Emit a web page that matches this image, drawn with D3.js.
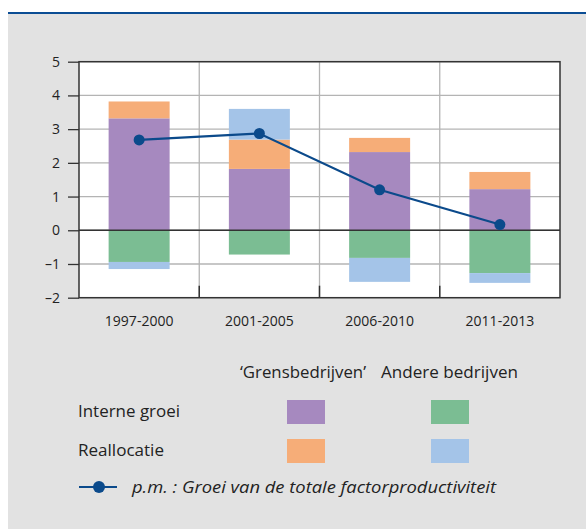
<!DOCTYPE html>
<html><head><meta charset="utf-8">
<script src="https://cdn.jsdelivr.net/npm/d3@7"></script>
<style>
html,body{margin:0;padding:0;background:#fff;}
svg{display:block;font-family:"Open Sans",sans-serif;}
</style></head>
<body>
<svg id="c" width="586" height="529"></svg>
<script>
const categories = ["1997-2000","2001-2005","2006-2010","2011-2013"];
const grensIntern = [3.32, 1.82, 2.32, 1.22];
const grensRealloc = [0.50, 0.87, 0.42, 0.51];
const andereIntern = [-0.94, -0.72, -0.82, -1.27];
const andereRealloc = [-0.21, 0.91, -0.71, -0.29];
const tfp = [2.68, 2.87, 1.20, 0.17];
const yTicks = [-2,-1,0,1,2,3,4,5];

const colors = {gi:"#a689bf", gr:"#f6ad78", ai:"#7bbd93", ar:"#a4c4e8", line:"#0b4a8b"};

const svg = d3.select("#c");
svg.append("rect").attr("x",8).attr("y",14).attr("width",578).attr("height",515).attr("fill","#e2e2e2");
svg.append("rect").attr("x",8).attr("y",12).attr("width",578).attr("height",2).attr("fill","#0b4d94");

const L=79, R=560, T=61.7, B=297.7;
const x = d3.scaleBand().domain(categories).range([L,R]).paddingInner(0).paddingOuter(0);
const y = d3.scaleLinear().domain([-2,5]).range([B,T]);

svg.append("rect").attr("x",L).attr("y",T).attr("width",R-L).attr("height",B-T).attr("fill","#fff");

// gridlines
const g = svg.append("g");
g.selectAll(".hg").data(yTicks).join("line")
  .attr("x1",L).attr("x2",R).attr("y1",d=>y(d)).attr("y2",d=>y(d))
  .attr("stroke","#b4b4b4").attr("stroke-width",1.3);
g.selectAll(".vg").data(categories.slice(1)).join("line")
  .attr("x1",d=>x(d)).attr("x2",d=>x(d)).attr("y1",T).attr("y2",B)
  .attr("stroke","#b4b4b4").attr("stroke-width",1.3);

// stacked bars
const bw = 61;
const bars = svg.append("g");
categories.forEach((c,i)=>{
  const cx = x(c)+x.bandwidth()/2;
  const segs = [];
  let pos=0, neg=0;
  const push=(v,col)=>{
    if(v>=0){segs.push({y0:pos,y1:pos+v,col});pos+=v;}
    else{segs.push({y0:neg+v,y1:neg,col});neg+=v;}
  };
  push(grensIntern[i],colors.gi);
  push(andereIntern[i],colors.ai);
  push(grensRealloc[i],colors.gr);
  push(andereRealloc[i],colors.ar);
  bars.selectAll(null).data(segs).join("rect")
    .attr("x",cx-bw/2).attr("width",bw)
    .attr("y",d=>y(d.y1)).attr("height",d=>y(d.y0)-y(d.y1))
    .attr("fill",d=>d.col);
});

// zero line
svg.append("line").attr("x1",L).attr("x2",R).attr("y1",y(0)).attr("y2",y(0)).attr("stroke","#333").attr("stroke-width",1.5);
// frame
svg.append("rect").attr("x",L).attr("y",T).attr("width",R-L).attr("height",B-T).attr("fill","none").attr("stroke","#333").attr("stroke-width",1.5);
// bottom inward ticks at category boundaries
svg.selectAll(".bt").data(categories.slice(1)).join("line")
  .attr("x1",d=>x(d)).attr("x2",d=>x(d)).attr("y1",B).attr("y2",B-12)
  .attr("stroke","#333").attr("stroke-width",1.5);

// y axis ticks + labels
const yAxis = d3.axisLeft(y).tickValues(yTicks).tickSize(11).tickPadding(8)
  .tickFormat(d=> d<0 ? "\u2013"+Math.abs(d) : String(d));
const ya = svg.append("g").attr("transform",`translate(${L},0)`).call(yAxis);
ya.select(".domain").remove();
ya.selectAll("line").attr("stroke","#333").attr("stroke-width",1.3);
ya.selectAll("text").attr("font-size",14).attr("fill","#222").attr("font-family","Open Sans, sans-serif");

// x labels
const xAxis = d3.axisBottom(x).tickSize(0).tickPadding(18);
const xa = svg.append("g").attr("transform",`translate(0,${B})`).call(xAxis);
xa.select(".domain").remove();
xa.selectAll("text").attr("font-size",14).attr("fill","#222").attr("font-family","Open Sans, sans-serif");

// line
const line = d3.line().x((d,i)=>x(categories[i])+x.bandwidth()/2).y(d=>y(d));
svg.append("path").datum(tfp).attr("d",line).attr("fill","none").attr("stroke",colors.line).attr("stroke-width",2.2);
svg.selectAll(".pt").data(tfp).join("circle")
  .attr("cx",(d,i)=>x(categories[i])+x.bandwidth()/2).attr("cy",d=>y(d)).attr("r",5.5).attr("fill",colors.line);

// legend
const lg = svg.append("g").attr("font-size",15.5).attr("fill","#222");
lg.append("text").attr("x",240).attr("y",378).attr("textLength",126).attr("lengthAdjust","spacingAndGlyphs").text("\u2018Grensbedrijven\u2019");
lg.append("text").attr("x",381).attr("y",378).attr("textLength",137).attr("lengthAdjust","spacingAndGlyphs").text("Andere bedrijven");
lg.append("text").attr("x",78).attr("y",417).attr("textLength",102).attr("lengthAdjust","spacingAndGlyphs").text("Interne groei");
lg.append("text").attr("x",78).attr("y",456).attr("textLength",86).attr("lengthAdjust","spacingAndGlyphs").text("Reallocatie");
const sw=[[287,400,colors.gi],[431,400,colors.ai],[287,439,colors.gr],[431,439,colors.ar]];
lg.selectAll("rect").data(sw).join("rect").attr("x",d=>d[0]).attr("y",d=>d[1]).attr("width",38).attr("height",24).attr("fill",d=>d[2]);
lg.append("line").attr("x1",79).attr("x2",117).attr("y1",487).attr("y2",487).attr("stroke",colors.line).attr("stroke-width",2);
lg.append("circle").attr("cx",99).attr("cy",487).attr("r",6).attr("fill",colors.line);
lg.append("text").attr("x",132).attr("y",493).attr("font-style","italic").attr("textLength",364).attr("lengthAdjust","spacingAndGlyphs").text("p.m. : Groei van de totale factorproductiviteit");
</script>
</body></html>
